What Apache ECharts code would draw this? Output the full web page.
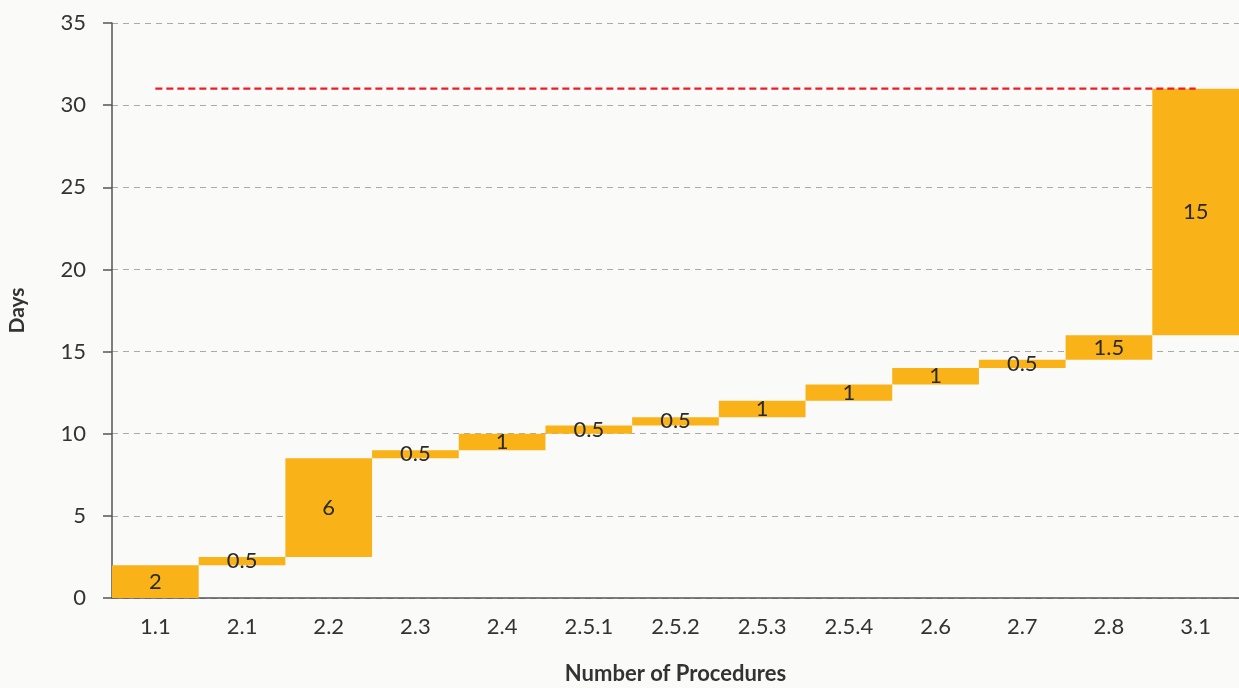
<!DOCTYPE html>
<html>
<head>
    <meta charset="utf-8">
    <title>Procedures waterfall</title>
    <script src="https://cdn.jsdelivr.net/npm/echarts@6/dist/echarts.min.js"></script>
    <style>
        html, body { margin: 0; padding: 0; background: #fafbf9; }
    </style>
</head>
<body>
    <div id="main" style="width: 1239px;height:688px;"></div>
    <script type="text/javascript">
    // procedures and the days each one adds
    var procedures = ['1.1', '2.1', '2.2', '2.3', '2.4', '2.5.1', '2.5.2', '2.5.3', '2.5.4', '2.6', '2.7', '2.8', '3.1'];
    var days = [2, 0.5, 6, 0.5, 1, 0.5, 0.5, 1, 1, 1, 0.5, 1.5, 15];
    var totalDays = 31;

    // invisible base for each step
    var base = [];
    var running = 0;
    for (var i = 0; i < days.length; i++) {
        base.push(running);
        running += days[i];
    }
    var totalLine = procedures.map(function () { return totalDays; });

    var myChart = echarts.init(document.getElementById('main'));
    var font = 'Lato, "Noto Sans", sans-serif';

    var option = {
        backgroundColor: '#fafbf9',
        animation: false,
        textStyle: { fontFamily: font },
        grid: { left: 112, right: 0, top: 23, bottom: 90, containLabel: false, outerBoundsMode: 'none' },
        xAxis: {
            type: 'category',
            data: procedures,
            name: 'Number of Procedures',
            nameLocation: 'middle',
            nameGap: 65,
            nameTextStyle: { fontSize: 22, fontWeight: 'bold', color: '#333', fontFamily: font },
            axisLine: { lineStyle: { color: '#555', width: 1.5 } },
            axisTick: { show: false },
            axisLabel: { fontSize: 22, color: '#333', margin: 18, fontFamily: font }
        },
        yAxis: {
            type: 'value',
            min: 0,
            max: 35,
            interval: 5,
            name: 'Days',
            nameLocation: 'middle',
            nameGap: 84,
            nameTextStyle: { fontSize: 21, fontWeight: 'bold', color: '#333', fontFamily: font },
            axisLine: { show: true, lineStyle: { color: '#555', width: 1.5 } },
            axisTick: { show: true, length: 9, lineStyle: { color: '#555', width: 1.5 } },
            axisLabel: { fontSize: 22, color: '#333', margin: 26, fontFamily: font },
            splitLine: { lineStyle: { color: '#aaa', type: [6, 5] } }
        },
        series: [
            {
                type: 'bar',
                stack: 'w',
                data: base,
                barWidth: '100%',
                itemStyle: { color: 'transparent' },
                silent: true
            },
            {
                type: 'bar',
                stack: 'w',
                data: days,
                barWidth: '100%',
                itemStyle: { color: '#f9b218' },
                label: {
                    show: true,
                    position: 'inside',
                    fontSize: 22,
                    color: '#2a2a2a',
                    fontFamily: font
                }
            },
            {
                type: 'line',
                data: totalLine,
                symbol: 'none',
                z: 5,
                lineStyle: { color: '#ee1c25', width: 2.2, type: [7, 4] }
            }
        ]
    };

    myChart.setOption(option);
    </script>
</body>
</html>
